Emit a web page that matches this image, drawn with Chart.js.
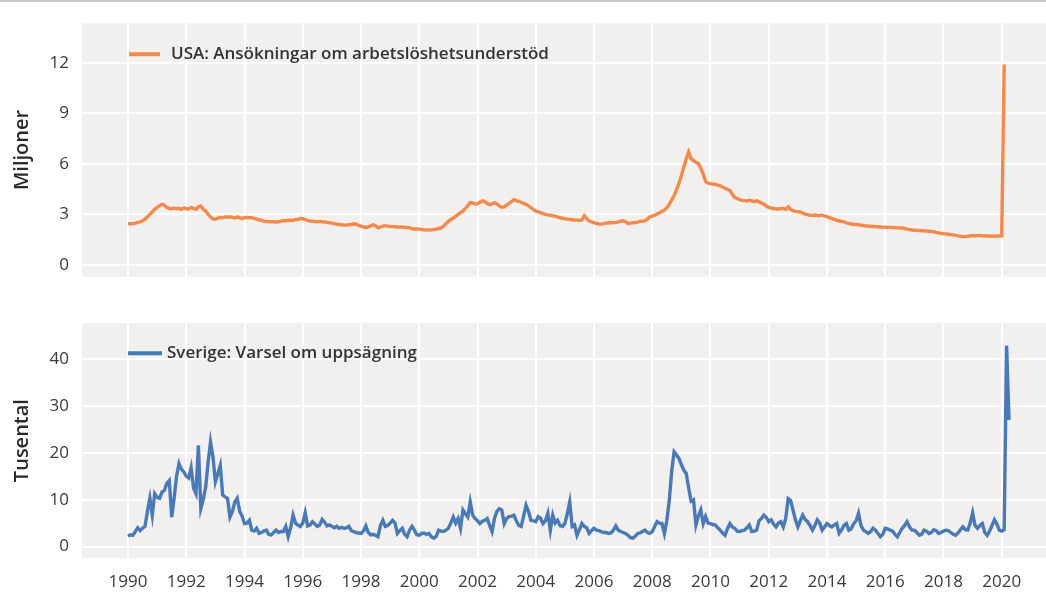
<!DOCTYPE html>
<html lang="sv">
<head>
<meta charset="utf-8">
<title>Ansökningar om arbetslöshetsunderstöd och varsel om uppsägning</title>
<script src="https://cdn.jsdelivr.net/npm/chart.js@4.4.1/dist/chart.umd.min.js"></script>
<style>
  html, body { margin: 0; padding: 0; background: #fff; }
  body { width: 1046px; height: 595px; position: relative; overflow: hidden; }
  .rule { position: absolute; left: 0; top: 0; width: 1046px; height: 2px; background: #cfcbc4; }
  .panel { position: absolute; left: 0; }
  #usa-panel { top: 0; }
  #se-panel { top: 300px; }
</style>
</head>
<body>
<div class="rule"></div>
<div class="panel" id="usa-panel"><canvas id="usa" width="1046" height="300"></canvas></div>
<div class="panel" id="se-panel"><canvas id="se" width="1046" height="295"></canvas></div>
<script>
// Monthly data, first value = January 1990
const startYear = 1990
const yearTicks = [1990, 1992, 1994, 1996, 1998, 2000, 2002, 2004, 2006, 2008, 2010, 2012, 2014, 2016, 2018, 2020]
const usaTicks = [0, 3, 6, 9, 12]
const seTicks = [0, 10, 20, 30, 40]

const usaLabel = 'USA: Ansökningar om arbetslöshetsunderstöd'
const seLabel = 'Sverige: Varsel om uppsägning'

// USA, millions
const usaClaims = [
  2.45, 2.44, 2.45, 2.48, 2.52, 2.56, 2.62, 2.72, 2.85, 3.0, 3.15, 3.3,
  3.42, 3.52, 3.6, 3.55, 3.4, 3.35, 3.33, 3.38, 3.34, 3.36, 3.3, 3.38,
  3.35, 3.32, 3.4, 3.36, 3.3, 3.45, 3.5, 3.3, 3.2, 3.0, 2.85, 2.72,
  2.72, 2.78, 2.82, 2.8, 2.85, 2.84, 2.86, 2.82, 2.78, 2.84, 2.8, 2.76,
  2.8, 2.82, 2.8, 2.8, 2.76, 2.72, 2.68, 2.64, 2.6, 2.58, 2.57, 2.56,
  2.56, 2.55, 2.56, 2.6, 2.63, 2.62, 2.64, 2.66, 2.65, 2.7, 2.68, 2.76,
  2.74, 2.68, 2.64, 2.6, 2.6, 2.58, 2.57, 2.58, 2.56, 2.55, 2.52, 2.5,
  2.48, 2.45, 2.42, 2.4, 2.38, 2.36, 2.36, 2.38, 2.4, 2.44, 2.42, 2.35,
  2.3, 2.25, 2.22, 2.26, 2.32, 2.38, 2.32, 2.2, 2.25, 2.3, 2.33, 2.3,
  2.28, 2.27, 2.26, 2.25, 2.24, 2.25, 2.23, 2.22, 2.2, 2.15, 2.13, 2.14,
  2.12, 2.1, 2.08, 2.08, 2.07, 2.08, 2.1, 2.12, 2.16, 2.2, 2.3, 2.45,
  2.58, 2.68, 2.78, 2.88, 3.0, 3.1, 3.2, 3.35, 3.52, 3.7, 3.68, 3.62,
  3.64, 3.72, 3.8, 3.76, 3.65, 3.58, 3.62, 3.7, 3.62, 3.5, 3.42, 3.45,
  3.55, 3.65, 3.75, 3.87, 3.82, 3.78, 3.72, 3.65, 3.6, 3.5, 3.4, 3.3,
  3.2, 3.15, 3.1, 3.05, 3.0, 2.97, 2.95, 2.92, 2.88, 2.85, 2.8, 2.77,
  2.75, 2.72, 2.7, 2.68, 2.66, 2.66, 2.65, 2.67, 2.92, 2.75, 2.6, 2.56,
  2.5, 2.47, 2.43, 2.42, 2.45, 2.48, 2.5, 2.52, 2.5, 2.52, 2.55, 2.6,
  2.62, 2.56, 2.45, 2.48, 2.5, 2.52, 2.54, 2.58, 2.6, 2.62, 2.72, 2.85,
  2.9, 2.95, 3.02, 3.1, 3.18, 3.25, 3.4, 3.6, 3.85, 4.1, 4.45, 4.85,
  5.3, 5.8, 6.3, 6.7, 6.3, 6.2, 6.1, 6.02, 5.75, 5.4, 4.95, 4.85,
  4.82, 4.8, 4.78, 4.74, 4.7, 4.62, 4.55, 4.48, 4.42, 4.2, 4.0, 3.95,
  3.88, 3.83, 3.82, 3.8, 3.84, 3.8, 3.76, 3.8, 3.74, 3.68, 3.6, 3.5,
  3.42, 3.38, 3.35, 3.33, 3.32, 3.34, 3.35, 3.3, 3.44, 3.3, 3.22, 3.18,
  3.16, 3.14, 3.08, 3.02, 2.98, 2.95, 2.94, 2.96, 2.94, 2.92, 2.96, 2.9,
  2.86, 2.8, 2.76, 2.7, 2.65, 2.62, 2.58, 2.55, 2.5, 2.46, 2.43, 2.41,
  2.4, 2.38, 2.36, 2.34, 2.32, 2.3, 2.29, 2.28, 2.27, 2.26, 2.25, 2.24,
  2.24, 2.23, 2.23, 2.22, 2.21, 2.2, 2.2, 2.19, 2.16, 2.12, 2.1, 2.07,
  2.06, 2.05, 2.04, 2.03, 2.02, 2.01, 2.0, 1.99, 1.97, 1.93, 1.9, 1.87,
  1.85, 1.84, 1.82, 1.8, 1.78, 1.75, 1.72, 1.7, 1.69, 1.68, 1.7, 1.72,
  1.74, 1.73, 1.74, 1.75, 1.72, 1.73, 1.71, 1.72, 1.7, 1.71, 1.72, 1.71,
  1.72, 11.9
]

// Sweden, thousands
const seNotices = [
  2.2, 2.5, 2.4, 3.2, 4.0, 3.4, 3.9, 4.3, 7.5, 10.3, 6.7, 11.3,
  10.5, 10.3, 11.6, 12.0, 13.5, 14.1, 6.3, 10.3, 15.0, 17.7, 16.5, 15.9,
  15.0, 14.6, 16.8, 12.5, 11.3, 21.6, 8.1, 10.0, 12.7, 18.0, 22.3, 19.1,
  13.8, 15.5, 17.3, 11.0, 10.6, 10.3, 6.3, 7.5, 9.5, 10.3, 7.5, 6.5,
  4.9, 5.0, 5.6, 3.5, 3.3, 3.9, 2.8, 3.0, 3.3, 3.5, 2.6, 2.5,
  3.0, 3.5, 3.0, 3.2, 3.2, 4.3, 2.1, 4.0, 6.7, 5.0, 4.6, 4.3,
  5.0, 7.2, 4.4, 4.6, 5.3, 4.8, 4.3, 4.6, 5.8, 5.2, 4.4, 4.6,
  4.3, 4.0, 4.3, 3.9, 4.1, 3.9, 4.0, 4.3, 3.4, 3.2, 3.0, 2.9,
  2.8, 3.3, 4.4, 3.0, 2.5, 2.6, 2.4, 2.1, 4.5, 5.6, 4.3, 4.5,
  5.0, 5.6, 5.0, 2.8, 3.4, 3.9, 2.6, 2.1, 3.5, 4.3, 3.5, 2.5,
  2.4, 2.8, 2.9, 2.6, 2.8, 2.1, 1.8, 2.2, 3.5, 3.3, 3.2, 3.5,
  3.9, 5.0, 6.3, 5.0, 6.0, 3.9, 7.8, 7.0, 6.3, 9.5, 6.7, 6.0,
  5.5, 4.9, 5.4, 5.6, 6.0, 4.5, 3.2, 6.0, 7.5, 8.1, 7.8, 4.9,
  6.0, 6.4, 6.5, 6.7, 5.5, 4.5, 4.3, 6.5, 8.8, 7.5, 5.6, 5.5,
  5.3, 6.4, 6.0, 4.9, 5.5, 7.1, 3.5, 6.7, 5.0, 5.6, 4.5, 4.3,
  4.9, 7.0, 9.5, 4.3, 4.6, 2.4, 3.6, 4.9, 4.3, 4.0, 2.8, 3.4,
  3.9, 3.5, 3.4, 3.2, 3.0, 3.0, 2.8, 2.9, 3.5, 4.4, 3.5, 3.2,
  3.0, 2.8, 2.4, 1.9, 1.8, 2.2, 2.8, 2.9, 3.2, 3.5, 3.0, 2.8,
  3.2, 4.3, 5.3, 5.0, 4.9, 2.8, 5.5, 9.7, 16.0, 20.2, 19.5, 18.8,
  17.5, 16.3, 15.6, 12.5, 9.7, 10.0, 4.6, 6.5, 7.8, 4.9, 6.4, 5.0,
  4.9, 4.7, 4.6, 4.0, 3.5, 2.9, 2.4, 3.8, 4.9, 4.2, 3.9, 3.3,
  3.2, 3.4, 3.5, 4.0, 4.6, 3.2, 3.3, 3.5, 5.5, 6.0, 6.7, 6.2,
  5.3, 5.7, 4.8, 4.2, 5.0, 5.3, 4.2, 6.0, 10.2, 9.8, 7.8, 5.7,
  4.2, 5.5, 6.7, 5.8, 5.3, 4.5, 3.5, 4.5, 5.7, 5.0, 3.5, 4.2,
  4.9, 4.5, 4.2, 4.6, 4.9, 2.8, 3.5, 4.5, 4.9, 3.5, 3.8, 4.9,
  5.5, 7.1, 4.5, 3.5, 3.2, 2.8, 3.2, 3.9, 3.5, 2.8, 2.1, 2.6,
  3.9, 3.8, 3.5, 3.3, 2.6, 2.1, 3.0, 3.9, 4.5, 5.3, 4.2, 3.5,
  3.5, 3.0, 2.4, 2.6, 3.5, 3.3, 2.8, 3.0, 3.6, 3.4, 2.8, 3.0,
  3.3, 3.5, 3.4, 3.0, 2.6, 2.4, 2.9, 3.6, 4.2, 3.6, 3.5, 5.0,
  7.2, 4.5, 3.9, 4.5, 4.9, 3.0, 2.4, 3.3, 4.5, 5.7, 4.8, 3.5,
  3.3, 3.6, 42.8, 27.0
]

document.addEventListener('DOMContentLoaded', function () {
  Chart.defaults.font.family = '"Open Sans", "DejaVu Sans", sans-serif'

  // grey panel behind the plot area
  const panelBackground = {
    id: 'panelBackground',
    beforeDraw(chart, args, opts) {
      const { ctx, chartArea: a } = chart
      ctx.save()
      ctx.fillStyle = opts.color
      ctx.fillRect(a.left, a.top, a.width, a.height)
      ctx.restore()
    },
  }

  // small legend drawn inside the plot area
  const insideLegend = {
    id: 'insideLegend',
    afterDraw(chart, args, opts) {
      const { ctx, chartArea: a } = chart
      const ds = chart.data.datasets[0]
      const x = a.left + opts.offsetX
      const y = a.top + opts.offsetY
      ctx.save()
      ctx.strokeStyle = ds.borderColor
      ctx.lineWidth = 4
      ctx.beginPath()
      ctx.moveTo(x, y)
      ctx.lineTo(x + opts.lineLength, y)
      ctx.stroke()
      ctx.fillStyle = '#333'
      ctx.font = '600 17px "Open Sans", sans-serif'
      ctx.textBaseline = 'middle'
      ctx.fillText(ds.label, x + opts.lineLength + opts.gap, y)
      ctx.restore()
    },
  }

  const toPoints = values => values.map((v, i) => ({ x: startYear + i / 12, y: v }))

  const xMin = 1988.42
  const xMax = 2021.52

  function makeChart(canvasId, cfg) {
    return new Chart(document.getElementById(canvasId), {
      type: 'line',
      data: {
        datasets: [
          {
            label: cfg.label,
            data: toPoints(cfg.values),
            borderColor: cfg.color,
            borderWidth: 3.4,
            pointRadius: 0,
            tension: 0,
          },
        ],
      },
      options: {
        responsive: false,
        animation: false,
        layout: { padding: cfg.padding },
        scales: {
          x: {
            type: 'linear',
            min: xMin,
            max: xMax,
            afterBuildTicks: s => { s.ticks = yearTicks.map(v => ({ value: v })) },
            afterFit: s => { s.height = cfg.xHeight },
            grid: { color: '#ffffff', lineWidth: 2, drawTicks: false },
            border: { display: false },
            ticks: {
              display: cfg.showYears,
              padding: 14,
              color: '#3a3a3a',
              font: { size: 17 },
              callback: v => String(v),
            },
          },
          y: {
            min: cfg.yMin,
            max: cfg.yMax,
            afterBuildTicks: s => { s.ticks = cfg.ticks.map(v => ({ value: v })) },
            afterFit: s => { s.width = 82 },
            grid: { color: '#ffffff', lineWidth: 2, drawTicks: false },
            border: { display: false },
            ticks: { padding: 13, color: '#3a3a3a', font: { size: 17 } },
            title: {
              display: true,
              text: cfg.title,
              color: '#2a2a2a',
              font: { size: 20, weight: '600' },
              padding: { top: 10, bottom: 0 },
            },
          },
        },
        plugins: {
          legend: { display: false },
          tooltip: { enabled: false },
          panelBackground: { color: '#f1f0ef' },
          insideLegend: cfg.legend,
        },
      },
      plugins: [panelBackground, insideLegend],
    })
  }

  makeChart('usa', {
    label: usaLabel,
    values: usaClaims,
    color: '#f4894b',
    ticks: usaTicks,
    yMin: -0.71,
    yMax: 14.36,
    title: 'Miljoner',
    showYears: false,
    xHeight: 0,
    padding: { top: 17, bottom: 21, left: 0, right: 0 },
    legend: { offsetX: 47, offsetY: 31, lineLength: 31, gap: 11 },
  })

  makeChart('se', {
    label: seLabel,
    values: seNotices,
    color: '#4a7ab6',
    ticks: seTicks,
    yMin: -2.44,
    yMax: 47.64,
    title: 'Tusental',
    showYears: true,
    xHeight: 37,
    padding: { top: 22, bottom: 0, left: 0, right: 0 },
    legend: { offsetX: 46, offsetY: 30, lineLength: 34, gap: 5 },
  })
})
</script>
</body>
</html>
